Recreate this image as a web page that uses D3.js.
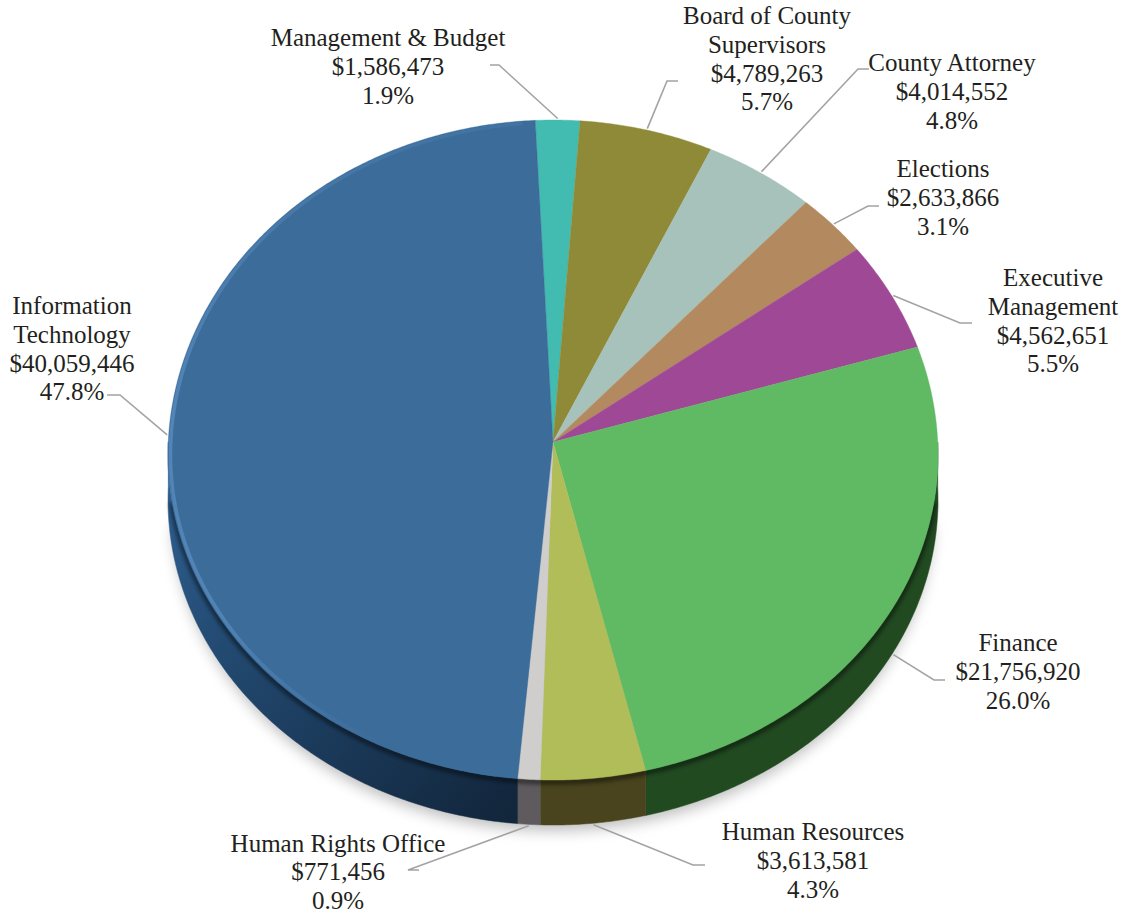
<!DOCTYPE html>
<html>
<head>
<meta charset="utf-8">
<script src="https://cdn.jsdelivr.net/npm/d3@7/dist/d3.min.js"></script>
<style>
  html, body { margin: 0; padding: 0; background: #fff; }
  svg { display: block; }
  text { font-family: "Liberation Serif", serif; font-size: 25px; fill: #231f20; text-anchor: middle; }
</style>
</head>
<body>
<svg id="chart" width="1125" height="915"></svg>
<script>
// Department names (one array entry per label line), budget amounts and printed shares, clockwise from the top.
const departments = [
  ["Management & Budget"],
  ["Board of County", "Supervisors"],
  ["County Attorney"],
  ["Elections"],
  ["Executive", "Management"],
  ["Finance"],
  ["Human Resources"],
  ["Human Rights Office"],
  ["Information", "Technology"]
];
const budgets = [1586473, 4789263, 4014552, 2633866, 4562651, 21756920, 3613581, 771456, 40059446];
const shares = ["1.9%", "5.7%", "4.8%", "3.1%", "5.5%", "26.0%", "4.3%", "0.9%", "47.8%"];

const faceColors = ["#43bcb0", "#8e8a37", "#a6c2bb", "#b38a5f", "#9f4a96", "#5fba63", "#b0bd58", "#d0cdcd", "#3b6c9a"];
const wallColors = ["#1d4a46", "#3c3a18", "#46524f", "#4b3a28", "#432040", "#214a21", "#49441e", "#5e5a5d", "url(#itWall)"];

// Label block centre and first baseline, and the elbow of each leader line.
const labelX = [388, 767, 952, 943, 1053, 1018, 813, 338, 72];
const labelY = [46, 24, 71, 177, 286, 651, 840, 851.5, 314];
const elbowX = [499, 667, 858, 868, 960, 934, 693, 408, 120];
const elbowY = [65, 81, 69, 206, 323, 680, 865, 870, 395];
const stubX  = [490, 678, 869, 879, 972, 945, 705, 419, 107];

// The slices meet at an apex that sits above the centre of the tilted rim ellipse.
const cx = 553, apexY = 442, rimY = 455, rx = 385, rimUp = 335, rimDown = 325;
const ryUp = 322, ryDown = 338, depth = 45;
const lineHeight = 28.8;
const rad = Math.PI / 180;
const startAngle = -2.7 * rad;

const project = (a, inset = 0, dy = 0) => {
  const c = Math.cos(a);
  const y = apexY - (c > 0 ? ryUp : ryDown) * c;
  const h = (y < rimY ? rimUp : rimDown);
  const k = Math.min(1, Math.abs(y - rimY) / h);
  const x = Math.sqrt(1 - k * k) * Math.sign(Math.sin(a));
  return [cx + (rx - inset) * x, rimY + (y - rimY) * (h - inset) / h + dy];
};
const sweep = (a0, a1) => {
  const n = Math.max(2, Math.ceil(Math.abs(a1 - a0) / (0.5 * rad)));
  return d3.range(n + 1).map(i => a0 + (a1 - a0) * i / n);
};
const line = d3.line();

const pie = d3.pie().sort(null).startAngle(startAngle).endAngle(startAngle + 2 * Math.PI);
const slices = pie(budgets);
const money = d3.format("$,");

const svg = d3.select("#chart");
const defs = svg.append("defs");

const blur = (id, s) => defs.append("filter").attr("id", id)
  .attr("x", "-10%").attr("y", "-10%").attr("width", "120%").attr("height", "120%")
  .append("feGaussianBlur").attr("stdDeviation", s);
blur("soft", 0.6);
blur("shade", 2.2);
blur("ground", 7);

const itWall = defs.append("linearGradient").attr("id", "itWall")
  .attr("gradientUnits", "userSpaceOnUse")
  .attr("x1", 168).attr("y1", 480).attr("x2", 520).attr("y2", 800);
[[0, "#2f5f90"], [0.3, "#234b73"], [0.65, "#1a3857"], [1, "#12263c"]].forEach(([o, c]) =>
  itWall.append("stop").attr("offset", o).attr("stop-color", c));

const rim = defs.append("linearGradient").attr("id", "rim")
  .attr("gradientUnits", "userSpaceOnUse")
  .attr("x1", 0).attr("y1", 120).attr("x2", 0).attr("y2", 780);
[[0, 0.2], [0.45, 0.75], [0.75, 0.7], [0.95, 0]].forEach(([o, v]) =>
  rim.append("stop").attr("offset", o).attr("stop-color", "#6b9fd6").attr("stop-opacity", v));

// Ground shadow under the disc
svg.append("path")
  .attr("d", line(sweep(95 * rad, 265 * rad).map(a => project(a, 4, depth + 10))) + "Z")
  .attr("fill", "#8c8c8c").attr("opacity", 0.55).attr("filter", "url(#ground)");

// Side wall: only the part of each slice that lies on the front half of the rim
const wall = svg.append("g");
slices.forEach((s, i) => {
  const a0 = Math.max(s.startAngle, 90 * rad), a1 = Math.min(s.endAngle, 270 * rad);
  if (a1 <= a0) return;
  const arc = sweep(a0, a1);
  const pts = arc.map(a => project(a)).concat(arc.slice().reverse().map(a => project(a, 0, depth)));
  wall.append("path").attr("d", line(pts) + "Z")
    .attr("fill", wallColors[i]).attr("stroke", wallColors[i]).attr("stroke-width", 0.5);
});

// Dark seam where the top face meets the wall
svg.append("path")
  .attr("d", line(sweep(100 * rad, 260 * rad).map(a => project(a, 0, 2))))
  .attr("fill", "none").attr("stroke", "#000").attr("stroke-opacity", 0.5)
  .attr("stroke-width", 5).attr("filter", "url(#shade)");

// Top face
const face = svg.append("g").attr("filter", "url(#soft)");
face.selectAll("path").data(slices).join("path")
  .attr("d", s => line([[cx, apexY]].concat(sweep(s.startAngle, s.endAngle).map(a => project(a)))) + "Z")
  .attr("fill", (s, i) => faceColors[i])
  .attr("stroke", (s, i) => faceColors[i]).attr("stroke-width", 0.4);

// Bevel highlight running round the blue slice
const it = slices[slices.length - 1];
svg.append("path")
  .attr("d", line(sweep(it.startAngle + 4 * rad, it.endAngle - 2 * rad).map(a => project(a, 2.5))))
  .attr("fill", "none").attr("stroke", "url(#rim)").attr("stroke-width", 3.5)
  .attr("stroke-opacity", 0.65).attr("filter", "url(#soft)");

// Leader lines: from the rim at the slice's mid angle to the elbow and a short stub
const leaders = svg.append("g").attr("fill", "none").attr("stroke", "#a3a3a3").attr("stroke-width", 1.6);
slices.forEach((s, i) => {
  const mid = (s.startAngle + s.endAngle) / 2;
  const front = Math.cos(mid) < -0.2 ? depth : 0;
  const p = project(mid, -1.5, front);
  leaders.append("path").attr("d", line([p, [elbowX[i], elbowY[i]], [stubX[i], elbowY[i]]]));
});

// Labels: name lines, amount, share of the total
const labels = svg.append("g");
departments.forEach((name, i) => {
  const rows = name.concat([money(budgets[i]), shares[i]]);
  const t = labels.append("text").attr("transform", `translate(${labelX[i]},${labelY[i]})`);
  rows.forEach((r, j) => t.append("tspan").attr("x", 0).attr("y", j * lineHeight).text(r));
});
</script>
</body>
</html>
